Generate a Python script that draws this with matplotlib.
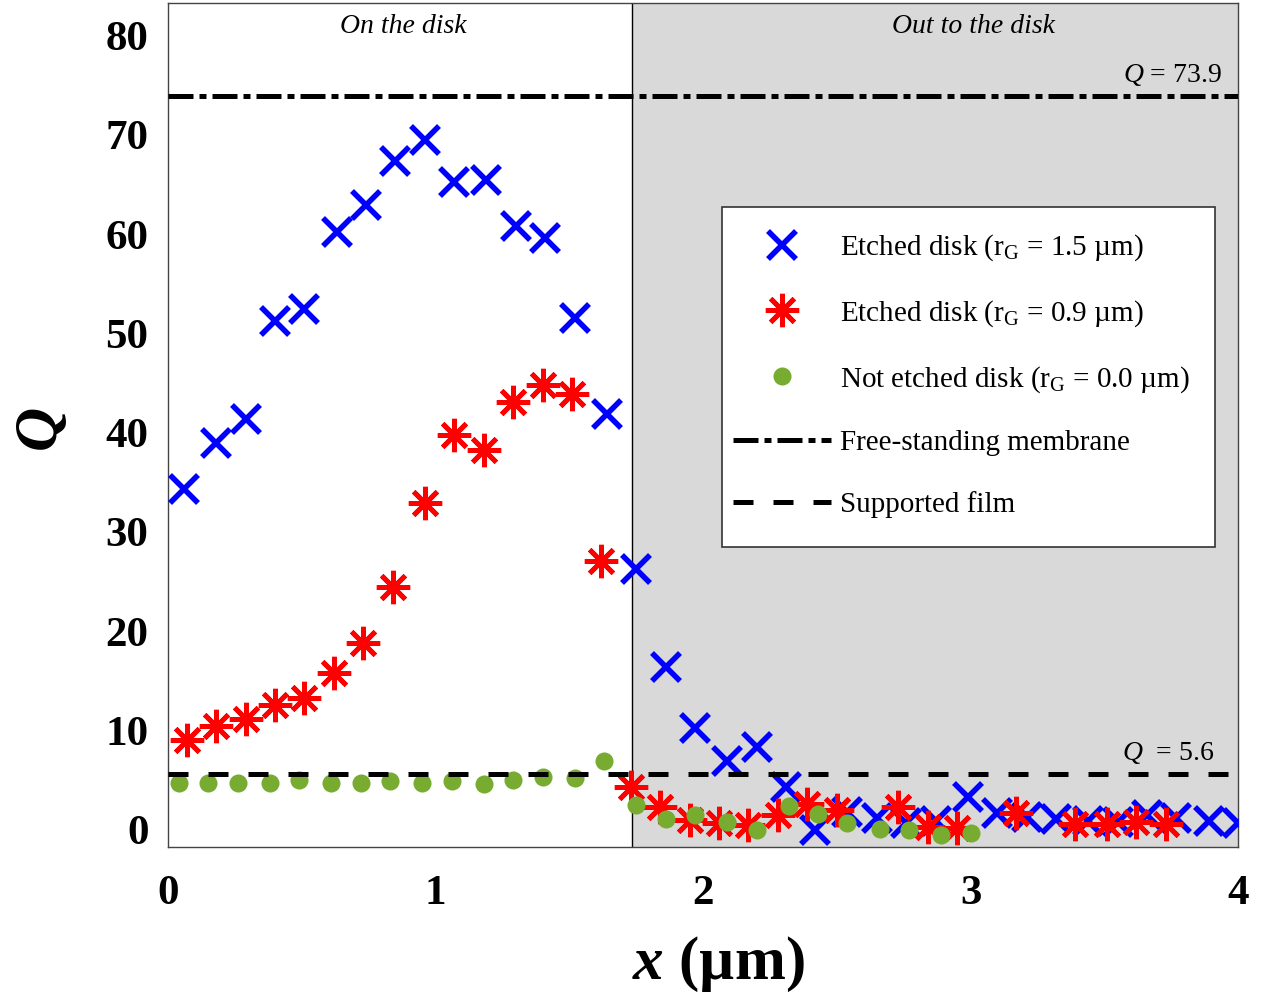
import numpy as np
import matplotlib.pyplot as plt
from matplotlib.lines import Line2D
from matplotlib.patches import Rectangle

plt.rcParams['font.family'] = ['Liberation Serif', 'DejaVu Serif']
plt.rcParams['mathtext.fontset'] = 'custom'
plt.rcParams['mathtext.rm'] = 'Liberation Serif'
plt.rcParams['mathtext.it'] = 'Liberation Serif:italic'
plt.rcParams['mathtext.bf'] = 'Liberation Serif:bold'
plt.rcParams['mathtext.bfit'] = 'Liberation Serif:italic:bold'

# etched disk, rG = 1.5 um
x_blue = [0.06, 0.18, 0.29, 0.40, 0.51, 0.63, 0.74, 0.85, 0.96, 1.07, 1.19, 1.30,
          1.41, 1.52, 1.64, 1.75, 1.86, 1.97, 2.09, 2.20, 2.31, 2.42, 2.54, 2.65,
          2.76, 2.87, 2.99, 3.10, 3.21, 3.32, 3.44, 3.55, 3.66, 3.77, 3.89, 4.00]
q_blue = [34.3, 39.0, 41.4, 51.3, 52.5, 60.2, 62.9, 67.4, 69.5, 65.3, 65.5, 60.8,
          59.6, 51.6, 41.9, 26.3, 16.4, 10.2, 6.9, 8.3, 4.3, -0.05, 1.8, 1.2,
          0.7, 0.9, 3.3, 1.7, 1.3, 1.1, 0.9, 0.8, 1.5, 1.2, 0.9, 0.7]

# etched disk, rG = 0.9 um
x_red = [0.07, 0.18, 0.29, 0.40, 0.51, 0.62, 0.73, 0.84, 0.96, 1.07, 1.18, 1.29,
         1.40, 1.51, 1.62, 1.73, 1.84, 1.95, 2.06, 2.17, 2.28, 2.39, 2.50, 2.73,
         2.84, 2.95, 3.17, 3.39, 3.51, 3.62, 3.73]
q_red = [9.0, 10.4, 11.1, 12.6, 13.3, 15.8, 18.8, 24.4, 32.9, 39.8, 38.3, 43.1,
         44.8, 43.9, 27.1, 4.3, 2.3, 1.0, 0.7, 0.5, 1.5, 2.6, 2.0, 2.3,
         0.3, 0.2, 1.7, 0.6, 0.6, 0.8, 0.6]

# not etched disk, rG = 0.0 um
x_green = [0.04, 0.15, 0.26, 0.38, 0.49, 0.61, 0.72, 0.83, 0.95, 1.06, 1.18, 1.29,
           1.40, 1.52, 1.63, 1.75, 1.86, 1.97, 2.09, 2.20, 2.32, 2.43, 2.54, 2.66,
           2.77, 2.89, 3.00]
q_green = [4.66, 4.72, 4.72, 4.66, 5.0, 4.66, 4.72, 4.9, 4.66, 4.9, 4.56, 5.0,
           5.3, 5.2, 6.9, 2.5, 1.1, 1.5, 0.8, -0.05, 2.4, 1.6, 0.7, 0.05,
           0.0, -0.5, -0.3]

q_membrane = 73.9
q_film = 5.6
disk_edge = 1.735

labels = ['Etched disk (r$_\\mathrm{G}$ = 1.5 µm)',
          'Etched disk (r$_\\mathrm{G}$ = 0.9 µm)',
          'Not etched disk (r$_\\mathrm{G}$ = 0.0 µm)',
          'Free-standing membrane',
          'Supported film']

blue = '#0000ff'
red = '#ff0000'
green = '#77ac30'
asterisk = (8, 2, 0)
dashdot = (0, (5.0, 1.2, 1.4, 1.2))
dashed = (0, (4, 4))

fig = plt.figure(figsize=(12.66, 9.98), dpi=100)
ax = fig.add_axes([0.1327, 0.1513, 0.8452, 0.8457])

ax.axvspan(disk_edge, 4, color='#d9d9d9', zorder=0, lw=0)
ax.axvline(disk_edge, color='k', lw=1, zorder=1)

ax.plot(x_blue, q_blue, ls='none', marker='x', ms=20, mew=4, color=blue, zorder=3)
ax.plot(x_red, q_red, ls='none', marker=asterisk, ms=24, mew=3.5, color=red, zorder=4)
ax.plot(x_green, q_green, ls='none', marker='o', ms=13, mew=0, color=green, zorder=5)

ax.axhline(q_membrane, color='k', lw=3.6, ls=dashdot, zorder=6)
ax.axhline(q_film, color='k', lw=3.6, ls=dashed, zorder=6)

ax.text(3.94, 74.7, '$Q$ = 73.9', ha='right', va='bottom', fontsize=20)
ax.text(3.91, 6.4, '$Q$  = 5.6', ha='right', va='bottom', fontsize=20)
ax.text(0.88, 82.2, 'On the disk', ha='center', va='top', fontsize=20, style='italic')
ax.text(3.01, 82.2, 'Out to the disk', ha='center', va='top', fontsize=20, style='italic')

ax.set_xlim(0, 4)
ax.set_ylim(-1.76, 83.3)
ax.set_xticks([0, 1, 2, 3, 4])
ax.set_yticks(np.arange(0, 81, 10))
ax.tick_params(length=0, labelsize=31)
ax.tick_params(axis='y', pad=14)
ax.tick_params(axis='x', pad=20)
for lab in ax.get_xticklabels() + ax.get_yticklabels():
    lab.set_fontweight('bold')
for sp in ax.spines.values():
    sp.set_color('#444444')
    sp.set_linewidth(1)

ax.set_xlabel('$\\mathbfit{x}$ (µm)', fontsize=44, fontweight='bold')
ax.set_ylabel('$\\mathbfit{Q}$', fontsize=44, fontweight='bold', rotation=90)
ax.xaxis.set_label_coords(0.514, -0.104)
ax.yaxis.set_label_coords(-0.092, 0.494)

# legend box
ax.add_patch(Rectangle((0.5178, 0.3555), 0.4607, 0.4028, transform=ax.transAxes,
                       facecolor='white', edgecolor='#333333', lw=1.2, zorder=7))
handles = [
    Line2D([], [], ls='none', marker='x', ms=20, mew=4, color=blue),
    Line2D([], [], ls='none', marker=asterisk, ms=24, mew=3.5, color=red),
    Line2D([], [], ls='none', marker='o', ms=13, mew=0, color=green),
    Line2D([], [], color='k', lw=3.6, ls=dashdot),
    Line2D([], [], color='k', lw=3.6, ls=dashed),
]
leg = ax.legend(handles, labels, loc='upper left', bbox_to_anchor=(0.5281, 0.728),
                frameon=False, fontsize=21, handlelength=3.35, handletextpad=0.3,
                labelspacing=1.2, borderpad=0, borderaxespad=0)
leg.set_zorder(8)

fig.savefig('out.png', dpi=100)
